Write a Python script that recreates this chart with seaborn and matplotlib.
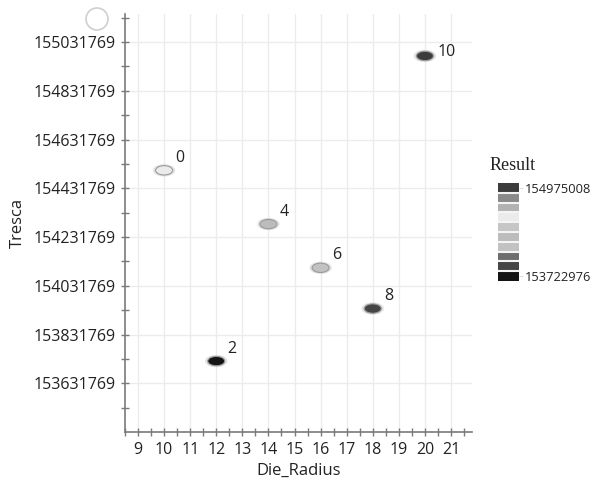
import numpy as np
import pandas as pd
import matplotlib
matplotlib.use("Agg")
import matplotlib.pyplot as plt
import seaborn as sns
from matplotlib.path import Path
from matplotlib.colors import ListedColormap, Normalize
from matplotlib.patches import Ellipse

# data
die_radius = [10, 12, 14, 16, 18, 20]
tresca = [154505700, 153722976, 154285150, 154105700, 153938500, 154975008]
point_labels = ["0", "2", "4", "6", "8", "10"]

# grey steps of the legend, bottom to top
result_greys = ["#141414", "#454545", "#6e6e6e", "#c2c2c2", "#bcbcbc",
                "#c6c6c6", "#ebebeb", "#b2b2b2", "#8a8a8a", "#3c3c3c"]
y_ticks = [153631769, 153831769, 154031769, 154231769,
           154431769, 154631769, 154831769, 155031769]
x_ticks = list(range(9, 22))

df = pd.DataFrame({"Die_Radius": die_radius, "Tresca": tresca, "label": point_labels})

sns.set_style("white")
plt.rcParams["font.family"] = ["Open Sans", "DejaVu Sans"]

cmap = ListedColormap(result_greys)
vmin, vmax = min(tresca), max(tresca)
norm = Normalize(vmin=vmin, vmax=vmax)

fig = plt.figure(figsize=(5.94, 4.86), dpi=100)
ax = fig.add_axes([0.2104, 0.111, 0.584, 0.86])

# flattened ellipse marker
circ = Path.unit_circle()
ell = Path(circ.vertices * np.array([1.0, 0.55]), circ.codes)

# soft halo then the coloured dot
sns.scatterplot(data=df, x="Die_Radius", y="Tresca", marker=ell, s=260,
                color="#d8d8d8", edgecolor="none", alpha=0.7, legend=False, ax=ax)
sns.scatterplot(data=df, x="Die_Radius", y="Tresca", hue="Tresca", palette=cmap,
                hue_norm=norm, marker=ell, s=150, edgecolor="#9a9a9a",
                linewidth=0.8, legend=False, ax=ax)

for xx, yy, lab in zip(die_radius, tresca, point_labels):
    # the top label sits beside its point, the others up and right
    off = (9, 0) if lab == "10" else (8, 6)
    ax.annotate(lab, (xx, yy), xytext=off, textcoords="offset points",
                fontsize=11.5, color="#222222")

ax.set_xlim(8.54, 21.8)
ax.set_ylim(153431769, 155146769)
ax.set_xticks(x_ticks)
ax.set_xticks(np.arange(8.5, 22.0, 0.5), minor=True)
ax.set_yticks(y_ticks)
ax.set_yticks(np.arange(153531769, 155146769, 200000), minor=True)
ax.set_yticklabels([str(v) for v in y_ticks])

ax.grid(True, which="major", color="#ececec", linewidth=1.0)
ax.set_axisbelow(True)
for side in ["top", "right"]:
    ax.spines[side].set_visible(False)
for side in ["left", "bottom"]:
    ax.spines[side].set_color("#7a7a7a")
    ax.spines[side].set_linewidth(1.2)
ax.tick_params(which="both", direction="inout", length=6, width=1,
               color="#7a7a7a", labelsize=11.5, labelcolor="#222222",
               bottom=True, left=True)
ax.tick_params(axis="x", pad=4)
ax.set_xlabel("Die_Radius", fontsize=12, color="#222222", labelpad=4)
ax.set_ylabel("Tresca", fontsize=12, color="#222222", labelpad=6)

# colour legend
cax = fig.add_axes([498 / 594, 1 - 281 / 486, 21 / 594, 98 / 486])
sm = plt.cm.ScalarMappable(cmap=cmap, norm=norm)
cb = fig.colorbar(sm, cax=cax, drawedges=True)
cb.outline.set_visible(False)
cb.dividers.set_color("#f4f4f4")
cb.dividers.set_linewidth(1.5)
step = (vmax - vmin) / len(result_greys)
cb.set_ticks([vmin + step / 2, vmax - step / 2], labels=[str(vmin), str(vmax)])
cb.ax.tick_params(length=3, color="#dddddd", labelsize=9.3, labelcolor="#222222", pad=1)
fig.text(490 / 594, 1 - 165 / 486, "Result", fontsize=13, va="center", ha="left",
         family=["Liberation Serif"], color="#222222")

# small empty circle in the top left corner
fig.patches.append(Ellipse((97 / 594, 1 - 19 / 486), 22 / 594, 22 / 486,
                           transform=fig.transFigure, fill=False,
                           edgecolor="#cfcfcf", linewidth=1.2))

fig.savefig("out.png", dpi=100)
